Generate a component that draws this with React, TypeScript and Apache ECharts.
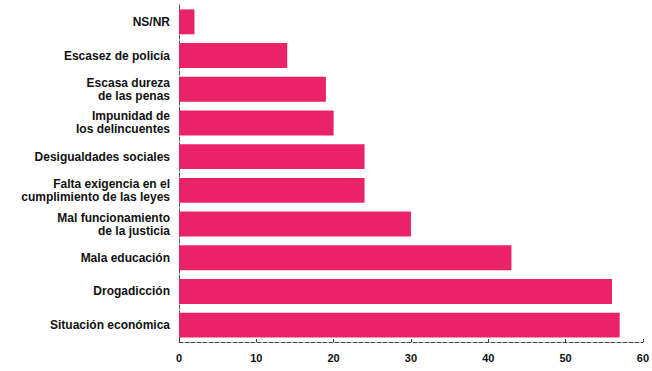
import React, { useEffect, useRef } from "react";
import * as echarts from "echarts";

const categories = [
  "NS/NR",
  "Escasez de policía",
  "Escasa dureza\nde las penas",
  "Impunidad de\nlos delincuentes",
  "Desigualdades sociales",
  "Falta exigencia en el\ncumplimiento de las leyes",
  "Mal funcionamiento\nde la justicia",
  "Mala educación",
  "Drogadicción",
  "Situación económica",
];
const values = [2, 14, 19, 20, 24, 24, 30, 43, 56, 57];
const xTicks = [0, 10, 20, 30, 40, 50, 60];

export default function App() {
  const ref = useRef<HTMLDivElement>(null);
  useEffect(() => {
    const chart = echarts.init(ref.current!, null, { renderer: "svg" });
    chart.setOption({
      animation: false,
      grid: { left: 179, right: 7, top: 5, bottom: 29, containLabel: false },
      xAxis: {
        type: "value",
        min: xTicks[0],
        max: xTicks[xTicks.length - 1],
        interval: 10,
        axisLine: { show: true, lineStyle: { color: "#444", type: "dashed", width: 1 } },
        axisTick: { show: true, inside: true, length: 3, lineStyle: { color: "#444" } },
        splitLine: { show: false },
        axisLabel: {
          color: "#111",
          fontFamily: "Liberation Sans",
          fontWeight: "bold",
          fontSize: 11,
          margin: 10,
        },
      },
      yAxis: {
        type: "category",
        data: categories,
        inverse: true,
        axisLine: { show: true, lineStyle: { color: "#555", type: "dashed", width: 1 } },
        axisTick: { show: false },
        axisLabel: {
          color: "#111",
          fontFamily: "Liberation Sans Narrow, Liberation Sans",
          fontWeight: "bold",
          fontSize: 12,
          lineHeight: 13,
          margin: 9,
          align: "right",
        },
      },
      series: [
        {
          type: "bar",
          data: values,
          barWidth: "74%",
          itemStyle: { color: "#ea2369" },
        },
      ],
    });
    return () => chart.dispose();
  }, []);
  return <div ref={ref} style={{ width: 652, height: 371, position: "absolute", left: 0, top: 0 }} />;
}
